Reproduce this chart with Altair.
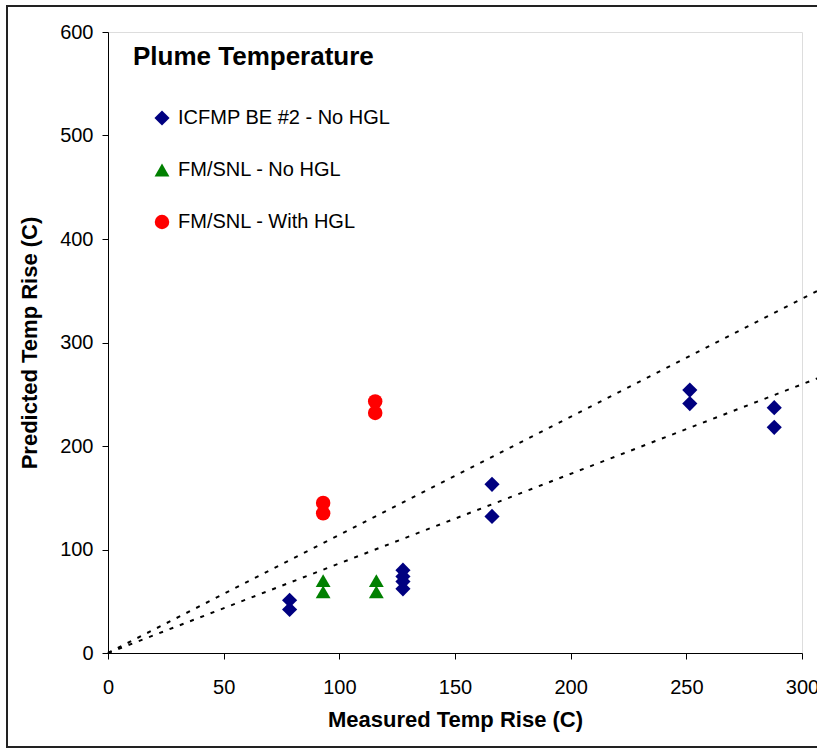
import altair as alt
import pandas as pd

# ---- data ----
series_names = ["ICFMP BE #2 - No HGL", "FM/SNL - No HGL", "FM/SNL - With HGL"]
series_colors = ["#000080", "#008000", "#FF0000"]
series_shapes = ["diamond", "triangle-up", "circle"]
series_sizes = [230, 210, 140]

icfmp_x = [78.5, 78.5, 127.5, 127.5, 127.5, 127.5, 166, 166, 251.5, 251.5, 288, 288]
icfmp_y = [51, 42, 80, 74, 69, 62, 163, 132, 254, 241, 237, 218]

fm_nohgl_x = [93, 93, 116, 116]
fm_nohgl_y = [70, 59, 70, 59]

fm_hgl_x = [93, 93, 115.5, 115.5]
fm_hgl_y = [145, 135, 243, 232]

band_x = [0, 312]
band_upper_y = [0, 356]
band_lower_y = [0, 270]

x_ticks = [0, 50, 100, 150, 200, 250, 300]
y_ticks = [0, 100, 200, 300, 400, 500, 600]

rows = []
for name, xs, ys in [(series_names[0], icfmp_x, icfmp_y),
                     (series_names[1], fm_nohgl_x, fm_nohgl_y),
                     (series_names[2], fm_hgl_x, fm_hgl_y)]:
    for a, b in zip(xs, ys):
        rows.append({"series": name, "measured": a, "predicted": b})
pts = pd.DataFrame(rows)

lines = pd.DataFrame(
    [{"band": "upper", "measured": a, "predicted": b} for a, b in zip(band_x, band_upper_y)]
    + [{"band": "lower", "measured": a, "predicted": b} for a, b in zip(band_x, band_lower_y)]
)

FONT = "Liberation Sans"
W, H = 694, 621

xscale = alt.Scale(domain=[0, 300], nice=False, zero=True)
yscale = alt.Scale(domain=[0, 600], nice=False, zero=True)

xaxis = alt.Axis(values=x_ticks, title="Measured Temp Rise (C)", grid=False,
                 labelFontSize=20, titleFontSize=22, titleFontWeight="bold",
                 labelFont=FONT, titleFont=FONT, tickSize=6, labelPadding=18,
                 titlePadding=12, domainColor="black", tickColor="black",
                 labelColor="black", titleColor="black", labelFlush=False)
yaxis = alt.Axis(values=y_ticks, title="Predicted Temp Rise (C)", grid=False,
                 labelFontSize=20, titleFontSize=22, titleFontWeight="bold",
                 labelFont=FONT, titleFont=FONT, tickSize=6, labelPadding=9,
                 titlePadding=18, domainColor="black", tickColor="black",
                 labelColor="black", titleColor="black", labelFlush=False)

frame = alt.Chart(pd.DataFrame({"k": [0]})).mark_rect(
    fill=None, stroke="#222222", strokeWidth=2, clip=False
).encode(x=alt.value(-101), x2=alt.value(730), y=alt.value(-26), y2=alt.value(715))

band = alt.Chart(lines).mark_line(
    color="black", strokeDash=[4, 7], strokeWidth=2, clip=False
).encode(
    x=alt.X("measured:Q", scale=xscale, axis=xaxis),
    y=alt.Y("predicted:Q", scale=yscale, axis=yaxis),
    detail="band:N",
)

points = alt.Chart(pts).mark_point(filled=True, opacity=1).encode(
    x=alt.X("measured:Q", scale=xscale),
    y=alt.Y("predicted:Q", scale=yscale),
    color=alt.Color("series:N", scale=alt.Scale(domain=series_names, range=series_colors),
                    legend=alt.Legend(title=None, orient="none", legendX=44, legendY=76,
                                      labelFontSize=20, labelFont=FONT, labelColor="black",
                                      labelLimit=500, rowPadding=32, labelOffset=6,
                                      symbolSize=160, symbolOpacity=1)),
    shape=alt.Shape("series:N", scale=alt.Scale(domain=series_names, range=series_shapes),
                    legend=None),
    size=alt.Size("series:N", scale=alt.Scale(domain=series_names, range=series_sizes),
                  legend=None),
)

title = alt.Chart(pd.DataFrame({"t": ["Plume Temperature"]})).mark_text(
    align="left", baseline="middle", font=FONT, fontSize=26, fontWeight="bold", color="black"
).encode(x=alt.value(25), y=alt.value(25), text="t:N")

chart = alt.layer(frame, band, points, title).properties(
    width=W, height=H,
    padding={"left": 108, "top": 32, "right": 15, "bottom": 97},
    autosize=alt.AutoSizeParams(type="none"),
).configure_view(stroke="black", strokeWidth=1.5).configure(background="white")

chart.save("out.html", embed_options={"renderer": "svg", "actions": False})
